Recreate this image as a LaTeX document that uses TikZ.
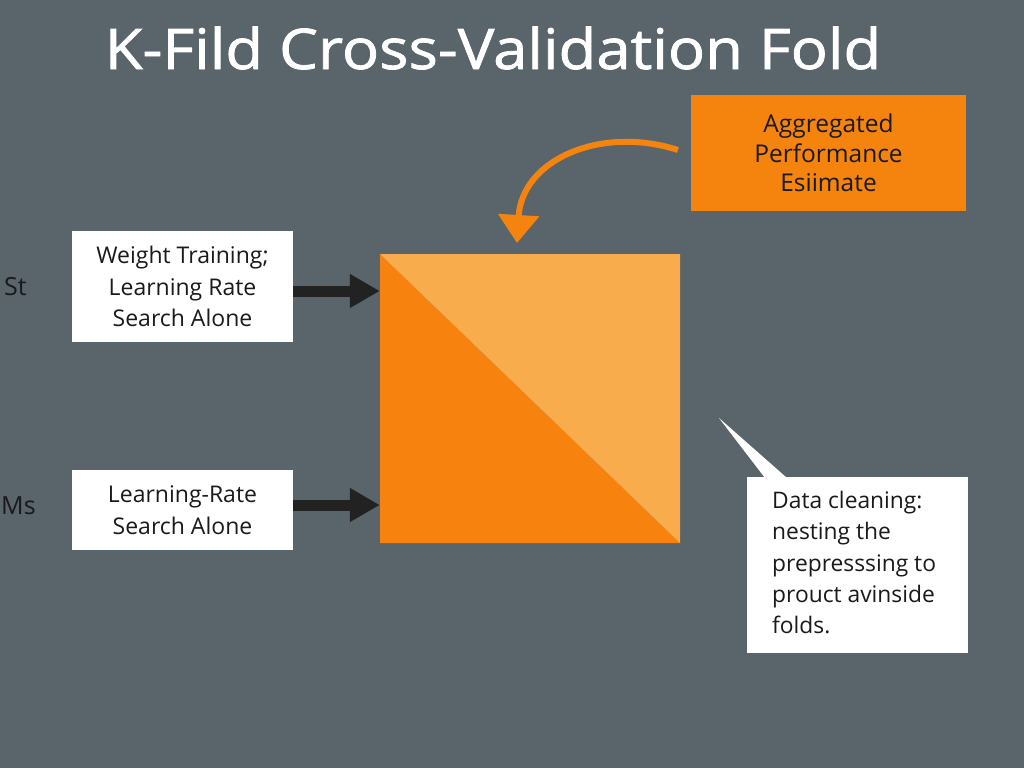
\documentclass[tikz,border=0pt]{standalone}
\usepackage{fontspec}
\setmainfont{Open Sans}
\usetikzlibrary{arrows.meta}
\definecolor{bg}{HTML}{5A646B}
\definecolor{orA}{HTML}{F5840F}
\definecolor{orDark}{HTML}{F7820D}
\definecolor{orLight}{HTML}{F9AC4B}
\definecolor{arrDark}{HTML}{222222}
\definecolor{txtDark}{HTML}{1A1A1A}
\tikzset{
  whitebox/.style={draw=none, fill=white, text=txtDark, align=center, font=\fontsize{23}{31.5}\selectfont, inner sep=0pt},
  sidelabel/.style={text=txtDark, font=\fontsize{25}{28}\selectfont, inner sep=0pt},
  fatarrow/.style={draw=arrDark, line width=11pt, -{Triangle[length=30pt,width=32pt]}},
}
\begin{document}
\begin{tikzpicture}[x=1pt,y=-1pt]
\fill[bg] (0,0) rectangle (1024,768);
\useasboundingbox (0,0) rectangle (1024,768);
% title
\node[text=white, font=\fontsize{56}{60}\selectfont\addfontfeature{FakeBold=1.3}, inner sep=0pt] (title) at (493,48) {\scalebox{1.1}[1]{K-Fild Cross-Validation Fold}};
% aggregated box
\node[fill=orA, minimum width=275pt, minimum height=116pt, inner sep=0pt, text=txtDark, align=center, font=\fontsize{24.5}{29.5}\selectfont] (agg) at (828.5,153) {Aggregated\\Performance\\Esiimate};
% square
\fill[orDark] (380,254) -- (680,543) -- (380,543) -- cycle;
\fill[orLight] (380,254) -- (680,254) -- (680,543) -- cycle;
\node[minimum width=300pt, minimum height=289pt, inner sep=0pt] (sq) at (530,398.5) {};
% curved arrow
\coordinate (cstart) at (678,150);
\draw[orA, line width=6pt, -{Triangle[length=28pt,width=40pt]}] (cstart) .. controls (600,125) and (522,160) .. (517,243);
% white boxes
\node[whitebox, minimum width=221pt, minimum height=111pt] (b1) at (182.5,286.5) {Weight Training;\\Learning Rate\\Search Alone};
\node[whitebox, minimum width=221pt, minimum height=80pt] (b2) at (182.5,510) {Learning-Rate\\Search Alone};
\draw[fatarrow] (b1.east |- 0,291) -- (sq.west |- 0,291);
\draw[fatarrow] (b2.east |- 0,505) -- (sq.west |- 0,505);
% side labels
\node[sidelabel, anchor=west] (st) at (4,287) {St};
\node[sidelabel, anchor=west] (ms) at (1,506) {Ms};
% callout
\node[fill=white, minimum width=221pt, minimum height=176pt, inner sep=0pt] (note) at (857.5,565) {};
\fill[white] (719,418) -- (787,478) -- (765,478) -- cycle;
\node[text=txtDark, align=left, anchor=north west, font=\fontsize{22.8}{31.3}\selectfont, inner sep=0pt] (notetxt) at (772,491) {Data cleaning:\\nesting the\\prepresssing to\\prouct avinside\\folds.};
\end{tikzpicture}
\end{document}
